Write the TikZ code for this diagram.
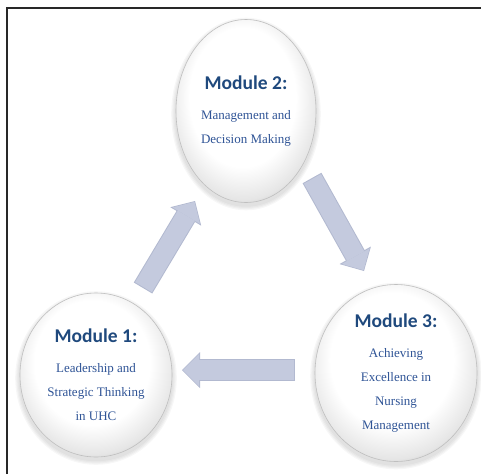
\documentclass[tikz,border=0pt]{standalone}
\usepackage{fontspec}
\setmainfont{Liberation Serif}
\newfontfamily\headfont{Carlito}
\usetikzlibrary{arrows.meta,shapes.geometric}
\definecolor{headblue}{RGB}{31,73,125}
\definecolor{bodyblue}{RGB}{47,84,150}
\definecolor{arrowgray}{RGB}{196,202,222}
\definecolor{arrowedge}{RGB}{178,185,208}
\definecolor{framegray}{RGB}{40,40,40}
\pgfdeclareradialshading{orb}{\pgfpoint{-2bp}{6bp}}{color(0bp)=(white); color(19bp)=(white); color(27bp)=(black!10); color(31bp)=(black!28); color(50bp)=(black!28)}
\newcommand\modhead[1]{{\headfont\bfseries\fontsize{19.5}{24}\selectfont\textcolor{headblue}{#1}}}
\begin{document}
\begin{tikzpicture}[x=1pt,y=-1pt,
  module/.style={ellipse,shade,shading=orb,draw=black!25,line width=0.6pt,align=center,inner sep=0pt,
    text=bodyblue,font=\fontsize{13}{24}\selectfont},
  flowedge/.style={line width=21.5pt,arrowedge,-{Triangle[length=18pt,width=36pt,line width=0pt]}},
  flow/.style={line width=19.5pt,arrowgray,-{Triangle[length=16pt,width=32pt,line width=0pt]}}]
  \useasboundingbox (0,0) rectangle (481,474);
  \draw[framegray,line width=1.2pt] (7,474) -- (7,8) -- (481,8);
  \foreach \cx/\cy/\rx/\ry in {96/375/76/82,246/111/70/91.5,396/373/81/88.5}{
    \foreach \k in {1,...,4}
      \fill[black,opacity=0.03] (\cx,\cy+3) ellipse ({\rx+\k*1.2} and {\ry+\k*1.2});
  }
  \node[module,minimum width=152pt,minimum height=164pt] (m1) at (96,375)
    {\modhead{Module 1:}\\[6pt]Leadership and\\Strategic Thinking\\in UHC};
  \node[module,minimum width=140pt,minimum height=183pt] (m2) at (246,111)
    {\modhead{Module 2:}\\[6pt]Management and\\Decision Making};
  \node[module,minimum width=162pt,minimum height=177pt] (m3) at (396,373)
    {\modhead{Module 3:}\\[6pt]Achieving\\Excellence in\\Nursing\\Management};
  \coordinate (a1s) at (143,288); \coordinate (a1e) at (195,201);
  \coordinate (a2s) at (312,178); \coordinate (a2e) at (364,271);
  \coordinate (a3s) at (295,370); \coordinate (a3e) at (182,370);
  \draw[flowedge] (a1s) -- (a1e);
  \draw[flowedge] (a2s) -- (a2e);
  \draw[flowedge] (a3s) -- (a3e);
  \draw[flow,shorten <=1pt,shorten >=1pt] (a1s) -- (a1e);
  \draw[flow,shorten <=1pt,shorten >=1pt] (a2s) -- (a2e);
  \draw[flow,shorten <=1pt,shorten >=1pt] (a3s) -- (a3e);
\end{tikzpicture}
\end{document}
